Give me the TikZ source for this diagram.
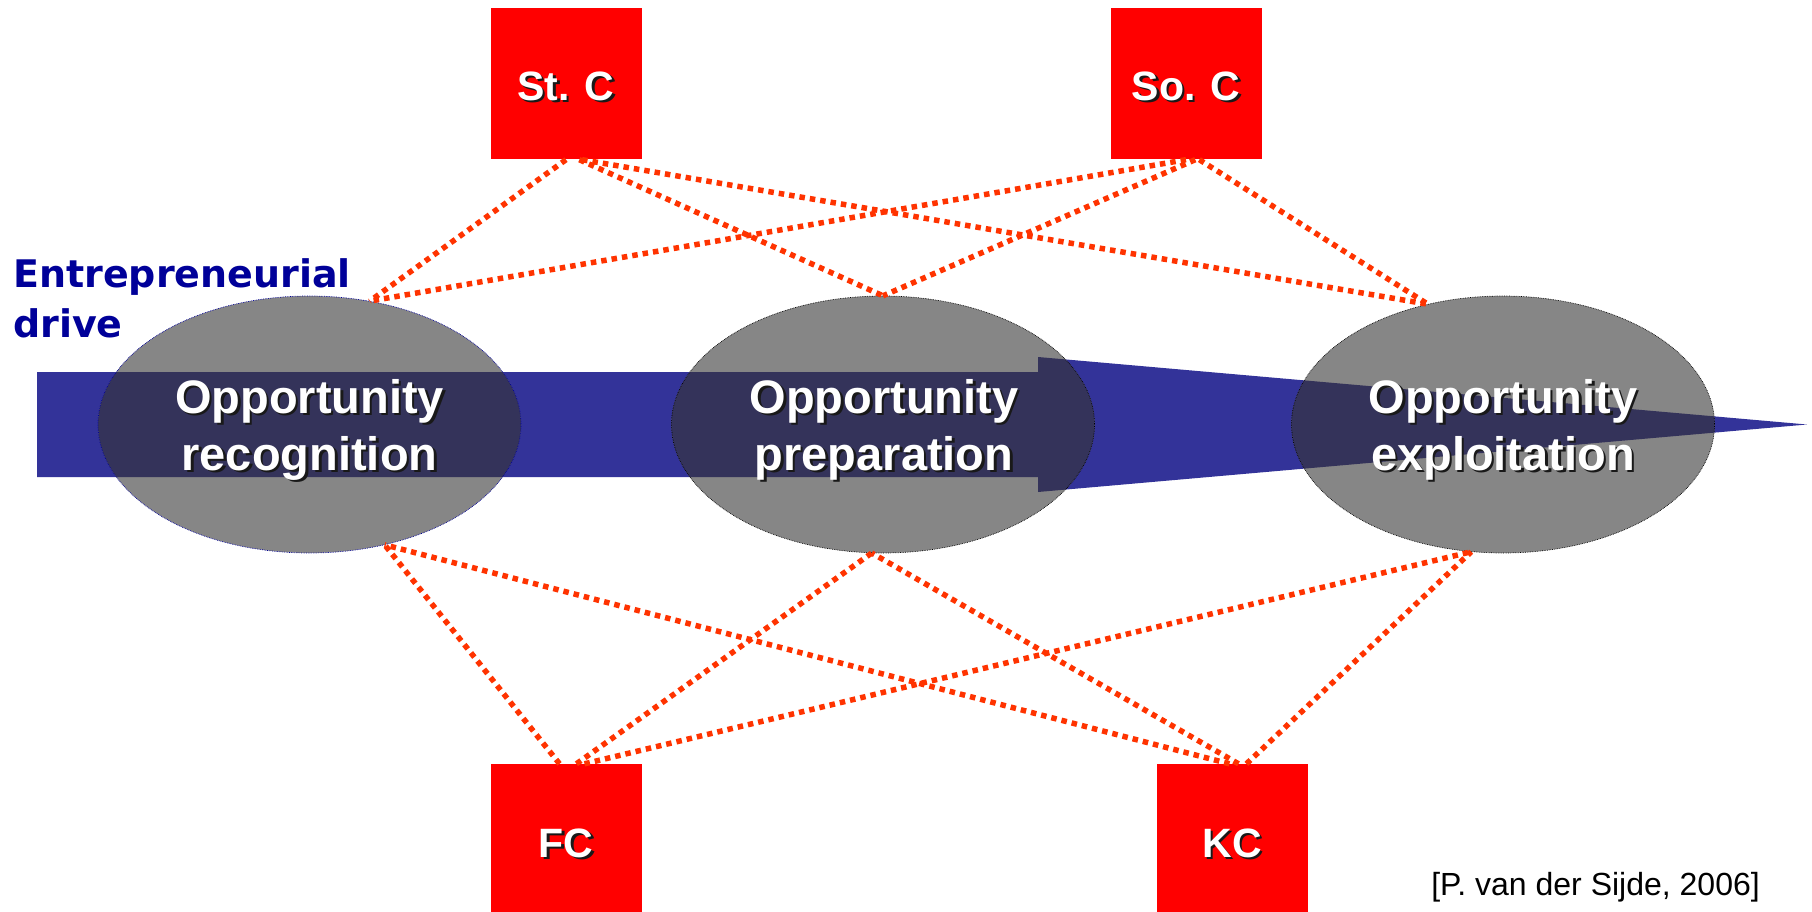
\documentclass[tikz,border=0pt]{standalone}
\usepackage{fontspec}
\setmainfont{Liberation Sans}
\newfontfamily\verdana{DejaVu Sans}
\usetikzlibrary{shapes.geometric}
\definecolor{arrowblue}{RGB}{51,51,153}
\definecolor{overlapc}{RGB}{52,51,90}
\definecolor{ellgray}{RGB}{134,134,134}
\definecolor{linered}{RGB}{255,51,0}
\definecolor{drivecol}{RGB}{0,0,153}
\definecolor{boxred}{RGB}{255,0,0}
\definecolor{shadowc}{RGB}{25,25,25}
\newcommand\shtext[1]{\leavevmode\rlap{\kern2.5pt\raisebox{-2.5pt}{\textcolor{shadowc}{#1}}}#1}
\begin{document}
\begin{tikzpicture}[x=1pt,y=-1pt,
  boxnode/.style={fill=boxred, minimum width=151pt, minimum height=151pt, inner sep=0pt, text=white, text height=33pt, text depth=0pt, font=\bfseries\fontsize{41}{41}\selectfont},
  oval/.style={ellipse, fill=ellgray, minimum width=423pt, minimum height=257pt, inner sep=0pt},
  ovalline/.style={draw=black, densely dotted, line width=0.7pt},
  link/.style={draw=linered, line width=5.5pt, dash pattern=on 5.5pt off 5pt},
  oppo/.style={anchor=base, text=white, font=\bfseries\fontsize{47}{47}\selectfont, inner sep=0pt},
  drive/.style={anchor=base west, text=drivecol, font=\verdana\bfseries\fontsize{38}{38}\selectfont, inner sep=0pt},
]
\useasboundingbox (0,0) rectangle (1812,912);

% boxes
\node[boxnode] (stc) at (566,84) {\shtext{St. C}};
\node[boxnode] (soc) at (1186,84) {\shtext{So. C}};
\node[boxnode, minimum height=148pt, text height=38pt] (fc) at (566,838) {\shtext{FC}};
\node[boxnode, minimum height=148pt, text height=38pt] (kc) at (1232,838) {\shtext{KC}};

% arrow
\fill[arrowblue] (37,372) -- (1038,372) -- (1038,357) -- (1807,424.5) -- (1038,492) -- (1038,477) -- (37,477) -- cycle;

% ellipses
\node[oval] (e1) at (309.5,424.5) {};
\node[oval] (e2) at (883,424.5) {};
\node[oval] (e3) at (1503,424.5) {};

\begin{scope}
\clip (e1.center) ellipse [x radius=211.5, y radius=128.5]
      (e2.center) ellipse [x radius=211.5, y radius=128.5]
      (e3.center) ellipse [x radius=211.5, y radius=128.5];
\fill[overlapc] (37,372) -- (1038,372) -- (1038,357) -- (1807,424.5) -- (1038,492) -- (1038,477) -- (37,477) -- cycle;
\end{scope}
\draw[ovalline, draw=drivecol] (e1.center) ellipse [x radius=211.5, y radius=128.5];
\draw[ovalline] (e2.center) ellipse [x radius=211.5, y radius=128.5];
\draw[ovalline] (e3.center) ellipse [x radius=211.5, y radius=128.5];

% links
\draw[link] (stc.-90) -- (e1.64);
\draw[link] (stc.-80) -- (e2.90);
\draw[link] (stc.-78) -- (e3.122);
\draw[link] (soc.-90) -- (e1.64);
\draw[link] (soc.-83) -- (e2.90);
\draw[link] (soc.-80) -- (e3.122);
\draw[link] (fc.95) -- (e1.-58);
\draw[link] (fc.82) -- (e2.-95);
\draw[link] (fc.76) -- (e3.-104);
\draw[link] (kc.92) -- (e1.-58);
\draw[link] (kc.85) -- (e2.-95);
\draw[link] (kc.79) -- (e3.-104);

% texts
\node[oppo] (t1a) at (309.5,413) {\shtext{Opportunity}};
\node[oppo] (t1b) at (309.5,470) {\shtext{recognition}};
\node[oppo] (t2a) at (884,413) {\shtext{Opportunity}};
\node[oppo] (t2b) at (884,470) {\shtext{preparation}};
\node[oppo] (t3a) at (1503,413) {\shtext{Opportunity}};
\node[oppo] (t3b) at (1503,470) {\shtext{exploitation}};

\node[drive] (d1) at (13,287) {Entrepreneurial};
\node[drive] (d2) at (13,337) {drive};

\node[anchor=base east, inner sep=0pt, font=\fontsize{32}{32}\selectfont] (cite) at (1760,895) {[P. van der Sijde, 2006]};
\end{tikzpicture}
\end{document}
